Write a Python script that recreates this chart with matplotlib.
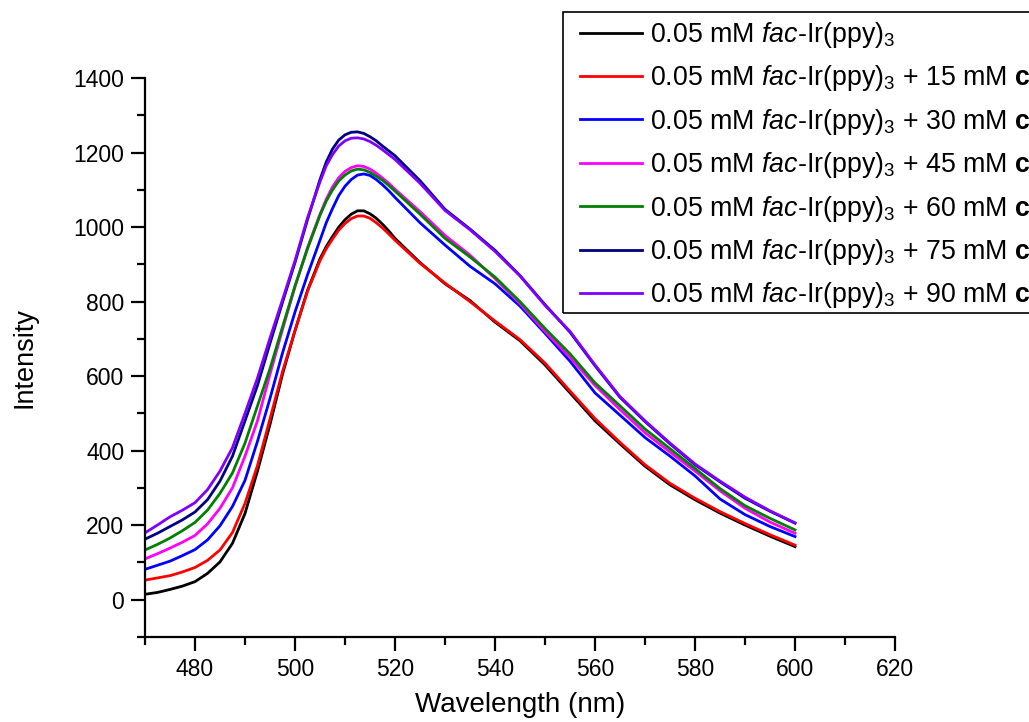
import matplotlib
matplotlib.use('Agg')
from matplotlib import pyplot as plt
from matplotlib.ticker import MultipleLocator
from matplotlib.patches import Rectangle

plt.rcParams['font.family'] = ['Liberation Sans', 'DejaVu Sans']
plt.rcParams['mathtext.fontset'] = 'custom'
plt.rcParams['mathtext.rm'] = 'Liberation Sans'
plt.rcParams['mathtext.it'] = 'Liberation Sans:italic'
plt.rcParams['mathtext.bf'] = 'Liberation Sans:bold'

# wavelength grid (nm) the curves were read at
wl = [470, 472.5, 475, 477.5, 480, 482.5, 485, 487.5, 490, 492.5, 495, 497.5,
      500, 502.5, 505, 506.25, 507.5, 508.75, 510, 511.25, 512.5, 513.75, 515,
      516.25, 517.5, 518.75, 520, 525, 530, 535,
      540, 545, 550, 555, 560, 565, 570, 575, 580, 585, 590, 595, 600]

ir_only = [14, 19, 27, 36, 48, 70, 101, 151, 231, 345, 470, 605,
           722, 830, 915, 948, 975, 1000, 1020, 1035, 1044, 1044, 1036,
           1024, 1008, 990, 970, 905, 848, 803,
           745, 695, 630, 555, 480, 418, 358, 308, 268, 232, 200, 170, 142]
c15 = [52, 58, 64, 74, 86, 105, 133, 180, 258, 360, 485, 612,
       722, 828, 910, 942, 968, 992, 1010, 1023, 1030, 1030, 1024,
       1012, 998, 982, 965, 903, 850, 800,
       748, 698, 635, 560, 486, 422, 362, 312, 272, 236, 204, 174, 146]
c30 = [81, 92, 103, 118, 134, 160, 198, 250, 320, 425, 540, 662,
       772, 872, 965, 1012, 1050, 1085, 1110, 1128, 1140, 1143, 1139,
       1128, 1114, 1098, 1080, 1012, 952, 895,
       848, 788, 715, 640, 555, 495, 435, 385, 332, 270, 228, 196, 169]
c45 = [109, 123, 138, 154, 172, 203, 245, 300, 385, 480, 605, 725,
       840, 945, 1035, 1075, 1108, 1133, 1150, 1160, 1165, 1163, 1156,
       1145, 1132, 1118, 1102, 1042, 978, 925,
       862, 795, 720, 650, 575, 510, 448, 396, 345, 292, 245, 208, 178]
c60 = [133, 148, 165, 185, 207, 240, 285, 340, 420, 520, 620, 732,
       842, 942, 1032, 1070, 1100, 1124, 1140, 1151, 1156, 1154, 1147,
       1137, 1126, 1112, 1097, 1035, 970, 920,
       866, 800, 728, 660, 582, 520, 458, 405, 352, 298, 252, 218, 187]
c75 = [162, 178, 196, 214, 235, 268, 318, 385, 480, 575, 688, 798,
       905, 1020, 1128, 1175, 1210, 1234, 1248, 1255, 1256, 1252, 1243,
       1232, 1218, 1205, 1192, 1125, 1048, 995,
       938, 870, 792, 718, 628, 543, 478, 418, 362, 316, 272, 237, 205]
c90 = [179, 200, 222, 240, 260, 295, 345, 408, 500, 595, 702, 805,
       910, 1025, 1122, 1165, 1195, 1218, 1232, 1239, 1240, 1237, 1230,
       1220, 1208, 1195, 1182, 1118, 1045, 993,
       935, 869, 790, 720, 630, 545, 480, 420, 364, 318, 275, 238, 206]

base = r'0.05 mM $\mathit{fac}$-Ir(ppy)$_3$'
labels = [base] + [base + ' + %d mM $\\mathbf{c}$' % c for c in [15, 30, 45, 60, 75, 90]]
series = [ir_only, c15, c30, c45, c60, c75, c90]
colors = ['#000000', '#ff0000', '#0000ff', '#ff00ff', '#008000', '#000080', '#8000ff']

W, H = 1029, 722
fig = plt.figure(figsize=(W / 100, H / 100), dpi=100)
ax = fig.add_axes([0.1409, 0.1181, 0.7289, 0.7735])

for y, lab, col in zip(series, labels, colors):
    ax.plot(wl, y, color=col, lw=2.0, label=lab)

ax.set_xlim(470, 620)
ax.set_ylim(-100, 1400)
ax.xaxis.set_major_locator(MultipleLocator(20))
ax.xaxis.set_minor_locator(MultipleLocator(10))
ax.yaxis.set_major_locator(MultipleLocator(200))
ax.yaxis.set_minor_locator(MultipleLocator(100))

for s in ['top', 'right']:
    ax.spines[s].set_visible(False)
for s in ['left', 'bottom']:
    ax.spines[s].set_linewidth(1.6)

ax.tick_params(which='major', direction='out', length=10, width=1.6, labelsize=16.5, pad=5)
ax.tick_params(which='minor', direction='out', length=6, width=1.6)

ax.set_xlabel('Wavelength (nm)', fontsize=20, labelpad=8)
ax.set_ylabel('Intensity', fontsize=19.5, labelpad=26)

# legend without its own frame; the box is drawn separately (it runs off the right edge)
leg = fig.legend(loc='upper left', bbox_to_anchor=(580 / W, 1 - 20 / H),
                 fontsize=19.3, frameon=False, borderpad=0, labelspacing=0.5,
                 handlelength=2.3, handletextpad=0.3, borderaxespad=0)
for ln in leg.get_lines():
    ln.set_linewidth(2.0)
fig.patches.append(Rectangle((563 / W, 1 - 313 / H), (1100 - 563) / W, (313 - 12) / H,
                             transform=fig.transFigure, fill=False,
                             edgecolor='black', linewidth=1.2))

fig.savefig('out.png', dpi=100)
